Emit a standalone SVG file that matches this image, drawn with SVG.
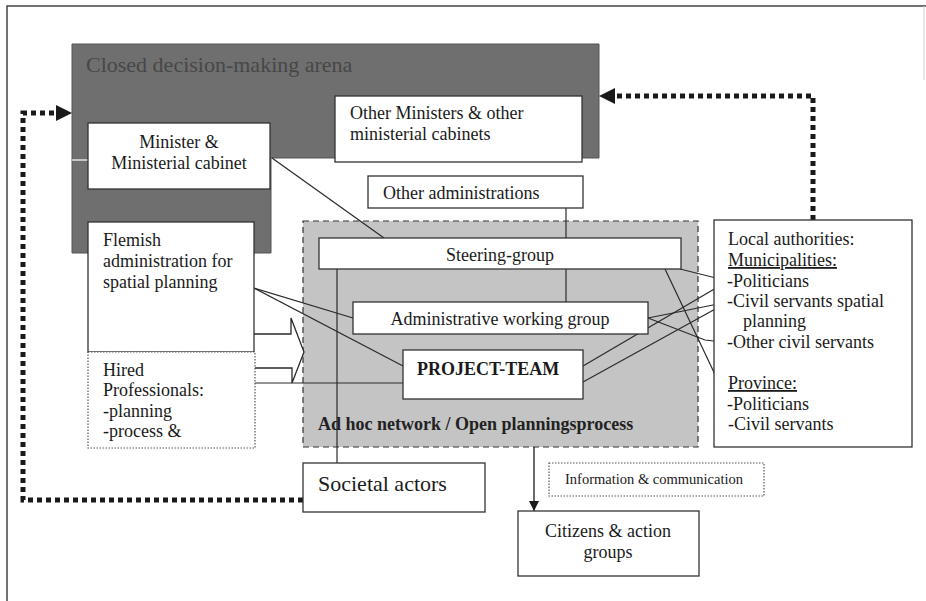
<svg xmlns="http://www.w3.org/2000/svg" width="926" height="601" viewBox="0 0 926 601">
<style>
text{font-family:"Liberation Serif","Times New Roman",serif;font-size:18px;fill:#1a1a1a}
.box{fill:#fff;stroke:#333;stroke-width:1.3}
.ln{stroke:#2a2a2a;stroke-width:1.2;fill:none}
.dot{stroke:#1a1a1a;stroke-width:5;fill:none;stroke-dasharray:5 4}
.b{font-weight:bold}
</style>
<defs>
<marker id="tri" viewBox="0 0 10 10" refX="10" refY="5" markerWidth="10" markerHeight="10" markerUnits="userSpaceOnUse" orient="auto"><path d="M0,0L10,5L0,10z" fill="#1a1a1a"/></marker>
<marker id="big" viewBox="0 0 16 16" refX="16" refY="8" markerWidth="16" markerHeight="16" markerUnits="userSpaceOnUse" orient="auto"><path d="M0,0L16,8L0,16z" fill="#1a1a1a"/></marker>
</defs>
<rect width="926" height="601" fill="#fff"/>
<path d="M7,601V6H926" fill="none" stroke="#444" stroke-width="1.5"/>
<line x1="924" y1="6" x2="924" y2="80" stroke="#ccc" stroke-width="1"/>

<g id="arena">
<path d="M72,44H599V158H271V253H72z" fill="#6f6f6f" stroke="#555" stroke-width="1"/>
<line x1="72" y1="160" x2="88" y2="160" stroke="#fff" stroke-width="1.2"/>
<text x="86" y="72" style="font-size:22px;fill:#474747">Closed decision-making arena</text>
</g>

<g id="adhoc">
<rect x="303" y="221" width="395" height="226" fill="#c4c4c4" stroke="#333" stroke-width="1.2" stroke-dasharray="6 4"/>
<text x="318" y="430" class="b" style="fill:#222">Ad hoc network / Open planningsprocess</text>
</g>

<g id="connectors">
<line class="ln" x1="272" y1="158" x2="384" y2="238"/>
<line class="ln" x1="337" y1="269" x2="337" y2="463"/>
<line class="ln" x1="566" y1="208" x2="566" y2="302"/>
<line class="ln" x1="254" y1="288" x2="353" y2="318"/>
<line class="ln" x1="254" y1="288" x2="403" y2="366"/>
<line class="ln" x1="255" y1="383" x2="403" y2="383"/>
<line class="ln" x1="680" y1="269" x2="728" y2="281"/>
<line class="ln" x1="583" y1="366" x2="728" y2="281"/>
<line class="ln" x1="648" y1="318" x2="728" y2="302"/>
<line class="ln" x1="583" y1="382" x2="728" y2="302"/>
<polyline class="ln" points="648,318 705,340 730,343"/>
<line class="ln" x1="665" y1="269" x2="729" y2="404"/>
<path d="M254,334H291V318L304,352L292,383V368H254" fill="#fff" stroke="#2a2a2a" stroke-width="1.3"/>
<line x1="534" y1="447" x2="534" y2="511" stroke="#1a1a1a" stroke-width="1.3" marker-end="url(#tri)"/>
<polyline class="dot" points="303,500 23,500 23,113 56,113"/>
<path d="M56,105L72,113L56,121z" fill="#1a1a1a"/>
<polyline class="dot" points="813,220 813,96 615,96"/>
<path d="M615,88L599,96L615,104z" fill="#1a1a1a"/>
</g>

<g id="minister">
<rect class="box" x="88" y="123" width="182" height="66"/>
<text x="179" y="148" text-anchor="middle">Minister &amp;</text>
<text x="179" y="169" text-anchor="middle">Ministerial cabinet</text>
</g>

<g id="other-ministers">
<rect class="box" x="335" y="96" width="247" height="66"/>
<text x="350" y="119">Other Ministers &amp; other</text>
<text x="350" y="140">ministerial cabinets</text>
</g>

<g id="other-admin">
<rect class="box" x="368" y="176" width="215" height="32"/>
<text x="383" y="199">Other administrations</text>
</g>

<g id="steering">
<rect class="box" x="319" y="238" width="362" height="31"/>
<text x="500" y="261" text-anchor="middle">Steering-group</text>
</g>

<g id="admin-working">
<rect class="box" x="353" y="302" width="295" height="32"/>
<text x="500" y="325" text-anchor="middle">Administrative working group</text>
</g>

<g id="project-team">
<rect class="box" x="403" y="350" width="180" height="49"/>
<text x="417" y="375" class="b">PROJECT-TEAM</text>
</g>

<g id="flemish">
<rect class="box" x="88" y="222" width="166" height="130"/>
<text x="103" y="246">Flemish</text>
<text x="103" y="267">administration for</text>
<text x="103" y="288">spatial planning</text>
</g>

<g id="hired">
<rect x="88" y="352" width="167" height="96" fill="#fff" stroke="#555" stroke-width="1.2" stroke-dasharray="1.5 1.5"/>
<text x="103" y="376">Hired</text>
<text x="103" y="396">Professionals:</text>
<text x="103" y="417">-planning</text>
<text x="103" y="437">-process &amp;</text>
</g>

<g id="local">
<rect class="box" x="714" y="220" width="198" height="227"/>
<text x="728" y="245">Local authorities:</text>
<text x="728" y="266" text-decoration="underline">Municipalities:</text>
<text x="727" y="287">-Politicians</text>
<text x="727" y="307">-Civil servants spatial</text>
<text x="743" y="327">planning</text>
<text x="727" y="348">-Other civil servants</text>
<text x="728" y="389" text-decoration="underline">Province:</text>
<text x="727" y="410">-Politicians</text>
<text x="728" y="430">-Civil servants</text>
</g>

<g id="societal">
<rect class="box" x="303" y="463" width="182" height="49"/>
<text x="318" y="491" style="font-size:22px">Societal actors</text>
</g>

<g id="info">
<rect x="549" y="463" width="215" height="33" fill="#fff" stroke="#555" stroke-width="1.2" stroke-dasharray="1.5 1.5"/>
<text x="565" y="484" style="font-size:14.5px">Information &amp; communication</text>
</g>

<g id="citizens">
<rect class="box" x="518" y="511" width="181" height="65"/>
<text x="608" y="537" text-anchor="middle">Citizens &amp; action</text>
<text x="608" y="558" text-anchor="middle">groups</text>
</g>
</svg>
